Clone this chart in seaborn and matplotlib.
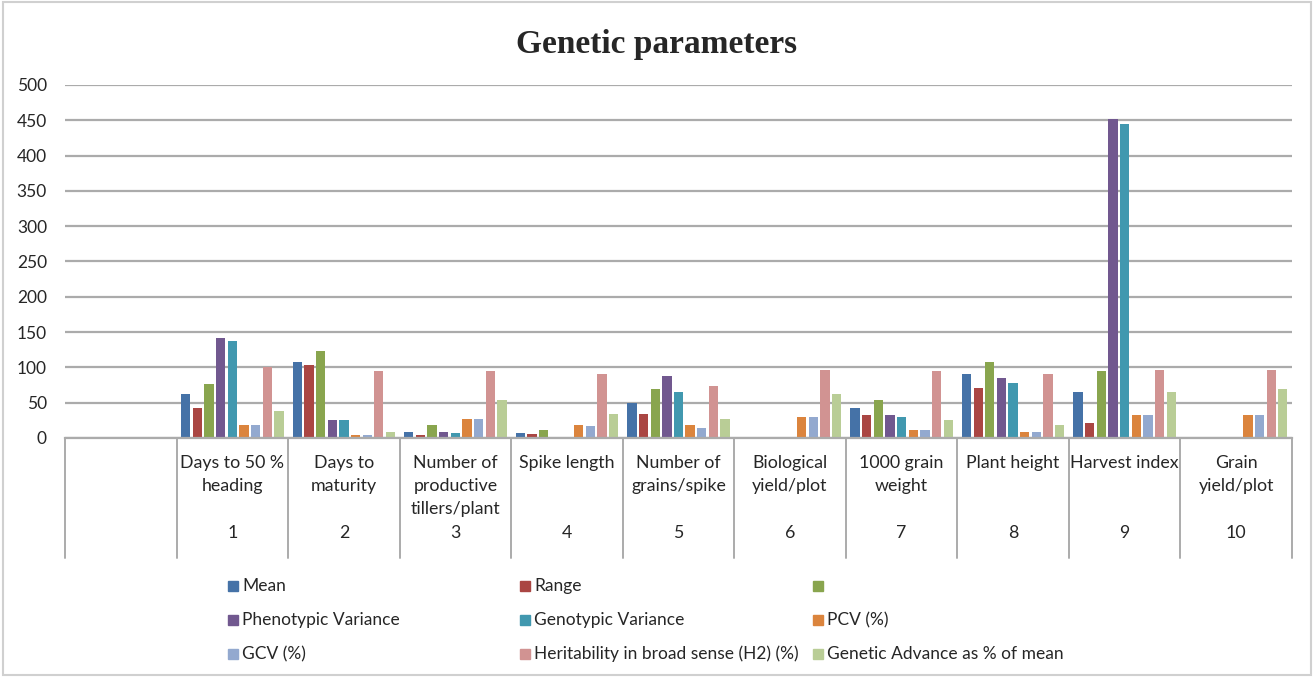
#Genetic parameters - clustered bar chart (excel style) redone with seaborn
import numpy as np
import pandas as pd
import matplotlib
matplotlib.use("Agg")
import matplotlib.pyplot as plt
import matplotlib.transforms as mtransforms
from matplotlib.patches import Rectangle
import seaborn as sns

# x categories, first slot is empty like in the sheet
traits = ["", "Days to 50 %\nheading", "Days to\nmaturity", "Number of\nproductive\ntillers/plant",
          "Spike length", "Number of\ngrains/spike", "Biological\nyield/plot", "1000 grain\nweight",
          "Plant height", "Harvest index", "Grain\nyield/plot"]
trait_no = ["", "1", "2", "3", "4", "5", "6", "7", "8", "9", "10"]

series = ["Mean", "Range", "", "Phenotypic Variance", "Genotypic Variance", "PCV (%)", "GCV (%)",
          "Heritability in broad sense (H2) (%)", "Genetic Advance as % of mean"]

# values (None = no bar)
mean_v  = [63, 108, 9, 7, 50, None, 42, 90, 65, None]
range_v = [42, 103, 4, 5, 34, None, 33, 71, 21, None]
green_v = [77, 123, 18, 12, 70, None, 54, 108, 95, None]
phen_v  = [141, 25, 8, 2, 88, None, 32, 85, 452, None]
geno_v  = [138, 25, 7, 2, 65, None, 30, 78, 445, None]
pcv_v   = [18, 4, 27, 18, 18, 30, 12, 9, 32, 33]
gcv_v   = [18, 4, 27, 17, 14, 30, 12, 8, 32, 33]
herit_v = [100, 95, 95, 91, 73, 97, 95, 91, 97, 97]
ga_v    = [38, 8, 54, 34, 27, 63, 25, 18, 65, 69]

colors = ["#4572A7", "#AA4643", "#89A54E", "#71588F", "#4198AF",
          "#DB843D", "#93A9CF", "#D19392", "#B9CD96"]

all_vals = [mean_v, range_v, green_v, phen_v, geno_v, pcv_v, gcv_v, herit_v, ga_v]
rows = []
for name, vals in zip(series, all_vals):
    for i, v in enumerate(vals):
        rows.append({"trait": traits[i + 1], "series": name,
                     "value": np.nan if v is None else v})
df = pd.DataFrame(rows)

sns.set_style("white")
plt.rcParams['font.family'] = ['Lato', 'DejaVu Sans']

W, H = 1314, 677
fig = plt.figure(figsize=(W / 100, H / 100), dpi=100)
ax = fig.add_axes([65 / W, (H - 438) / H, (1292 - 65) / W, (438 - 85) / H])

sns.barplot(data=df, x="trait", y="value", hue="series", order=traits, hue_order=series,
            palette=dict(zip(series, colors)), width=0.94, gap=0.2, saturation=1,
            errorbar=None, legend=False, linewidth=0, ax=ax)

ax.set_xlim(-0.5, len(traits) - 0.5)
ax.set_ylim(0, 500)
ax.set_yticks(range(0, 501, 50))
ax.set_xticks([])
ax.set_xlabel("")
ax.set_ylabel("")
ax.yaxis.grid(True, color="#ababab", lw=1.6)
ax.set_axisbelow(True)
for s in ["top", "right", "left"]:
    ax.spines[s].set_visible(False)
ax.spines["bottom"].set_color("#ababab")
ax.spines["bottom"].set_linewidth(1.6)
ax.tick_params(axis="y", length=0, pad=13, labelsize=12.5, labelcolor="#262626")

# table under the axis
trans = mtransforms.blended_transform_factory(ax.transData, ax.transAxes)
for k in range(len(traits) + 1):
    ax.plot([k - 0.5, k - 0.5], [0, -0.34], transform=trans, clip_on=False,
            color="#ababab", lw=1.4)
for i in range(1, len(traits)):
    ax.text(i, -0.048, traits[i], transform=trans, ha="center", va="top",
            fontsize=12.8, linespacing=1.55, color="#262626")
    ax.text(i, -0.269, trait_no[i], transform=trans, ha="center", va="center",
            fontsize=12.8, color="#262626")

# title
fig.text(0.5, 1 - 45 / H, "Genetic parameters", ha="center", va="center",
         fontsize=24, fontweight="bold", family=["Liberation Serif", "DejaVu Serif"])

# legend, 3 columns filled row by row like excel
col_x = [228, 520, 813]
row_y = [586, 620, 654]
for j, (name, c) in enumerate(zip(series, colors)):
    r, cc = divmod(j, 3)
    x, y = col_x[cc], row_y[r]
    fig.patches.append(Rectangle((x / W, 1 - (y + 5) / H), 10 / W, 10 / H,
                                 transform=fig.transFigure, color=c))
    fig.text((x + 14) / W, 1 - y / H, name, va="center", ha="left",
             fontsize=12.5, color="#262626")

# outer frame
fig.patches.append(Rectangle((0.002, 0.003), 0.996, 0.994, transform=fig.transFigure,
                             fill=False, edgecolor="#d0d0d0", lw=1.5))

fig.savefig("out.png", dpi=100)
